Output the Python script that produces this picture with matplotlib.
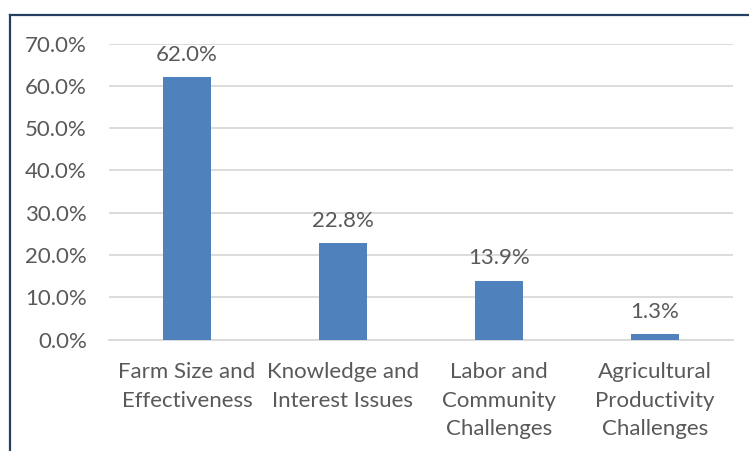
import matplotlib
matplotlib.use("Agg")
import matplotlib.pyplot as plt
from matplotlib.lines import Line2D
from matplotlib.ticker import PercentFormatter

# categories and shares (%)
categories = ["Farm Size and\nEffectiveness", "Knowledge and\nInterest Issues",
              "Labor and\nCommunity\nChallenges", "Agricultural\nProductivity\nChallenges"]
shares = [62.0, 22.8, 13.9, 1.3]
yticks = [0, 10, 20, 30, 40, 50, 60, 70]

plt.rcParams['font.family'] = ['Lato', 'DejaVu Sans']
txt = '#595959'
fs = 16

fig = plt.figure(figsize=(7.49, 4.51), dpi=100)
ax = fig.add_axes([0.1455, 0.2472, 0.8331, 0.6563])

x = range(len(shares))
bars = ax.bar(x, shares, width=0.31, color='#4f81bd', zorder=3)
for b, v in zip(bars, shares):
    ax.annotate("%.1f%%" % v, (b.get_x() + b.get_width() / 2, v),
                xytext=(0, 9), textcoords='offset points',
                ha='center', va='bottom', fontsize=fs, color=txt)

ax.set_xlim(-0.5, 3.5)
ax.set_ylim(0, 70)
ax.set_yticks(yticks)
ax.yaxis.set_major_formatter(PercentFormatter(decimals=1))
ax.set_xticks(list(x))
ax.set_xticklabels(categories, linespacing=1.55)
ax.tick_params(axis='y', length=0, pad=16, labelsize=fs, labelcolor=txt)
ax.tick_params(axis='x', length=0, pad=16, labelsize=fs, labelcolor=txt)
ax.grid(axis='y', color='#d9d9d9', linewidth=1.3, zorder=0)
for s in ['top', 'right', 'left']:
    ax.spines[s].set_visible(False)
ax.spines['bottom'].set_color('#d9d9d9')
ax.spines['bottom'].set_linewidth(1.3)

# frame lines on the left and top edge
fig.add_artist(Line2D([9.5 / 749, 9.5 / 749], [0, 1 - 14.5 / 451],
                      color='#243f60', linewidth=1.6))
fig.add_artist(Line2D([9.5 / 749, 1], [1 - 14.5 / 451, 1 - 14.5 / 451],
                      color='#243f60', linewidth=1.6))

fig.savefig("out.png", dpi=100)
